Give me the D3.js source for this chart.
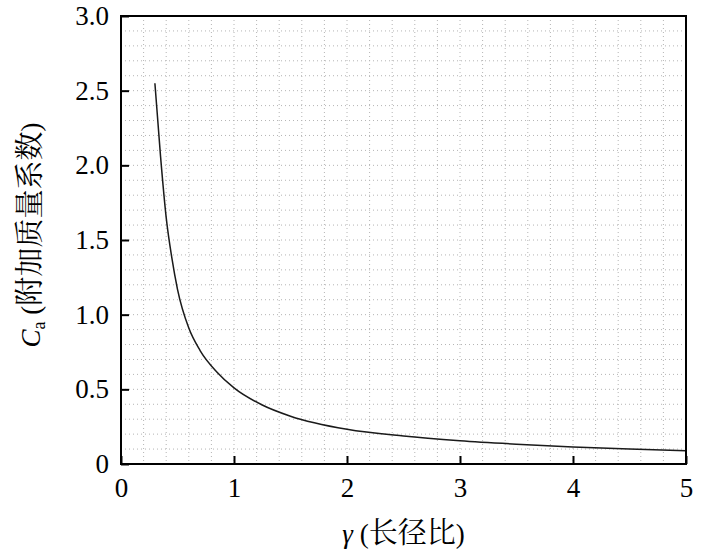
<!DOCTYPE html>
<meta charset="utf-8">
<style>
body { margin: 0; background: #fff; }
.grid line { stroke: #b4b4b4; stroke-width: 1; stroke-dasharray: 1,3; }
.axis path { display: none; }
.axis line { stroke: #000; stroke-width: 2; }
</style>
<svg width="709" height="554"></svg>
<script src="https://cdn.jsdelivr.net/npm/d3@7"></script>
<script>

// gamma (aspect ratio) and Ca (added mass coefficient)
var gamma = [0.30, 0.35, 0.40, 0.45, 0.50, 0.60, 0.70, 0.85, 1.0, 1.25, 1.5, 2.0, 2.5, 3.0, 3.5, 4.0, 4.5, 5.0];
var ca    = [2.55, 2.06, 1.65, 1.38, 1.17, 0.91, 0.76, 0.615, 0.51, 0.395, 0.32, 0.232, 0.187, 0.156, 0.133, 0.114, 0.10, 0.089];

var xTicks = [0, 1, 2, 3, 4, 5];
var yTicks = [0, 0.5, 1.0, 1.5, 2.0, 2.5, 3.0];

var latin = "'Liberation Serif'",
    cjk = "'Noto Serif CJK SC'";

var svg = d3.select("svg"),
    margin = {top: 16, right: 23, bottom: 90, left: 121},
    width = 709 - margin.left - margin.right,
    height = 554 - margin.top - margin.bottom,
    g = svg.append("g").attr("transform", "translate(" + margin.left + "," + margin.top + ")");

var x = d3.scaleLinear().domain([0, 5]).range([0, width]);
var y = d3.scaleLinear().domain([0, 3]).range([height, 0]);

// dotted grid: every 0.2 along x, every 0.1 along y
var grid = g.append("g").attr("class", "grid");
grid.selectAll(".gx")
  .data(d3.range(1, 25).map(function(i) { return i * 0.2; }))
  .enter().append("line")
    .attr("x1", function(d) { return x(d); })
    .attr("x2", function(d) { return x(d); })
    .attr("y1", 0)
    .attr("y2", height);
grid.selectAll(".gy")
  .data(d3.range(1, 30).map(function(i) { return i * 0.1; }))
  .enter().append("line")
    .attr("x1", 0)
    .attr("x2", width)
    .attr("y1", function(d) { return y(d); })
    .attr("y2", function(d) { return y(d); });

var line = d3.line()
    .x(function(d, i) { return x(gamma[i]); })
    .y(function(d) { return y(d); })
    .curve(d3.curveMonotoneX);

g.append("path")
    .datum(ca)
    .attr("fill", "none")
    .attr("stroke", "#1a1a1a")
    .attr("stroke-width", 1.5)
    .attr("d", line);

g.append("g")
    .attr("class", "axis")
    .attr("transform", "translate(0," + height + ")")
    .call(d3.axisBottom(x)
        .tickValues(xTicks)
        .tickFormat(d3.format("d"))
        .tickSizeInner(-8)
        .tickSizeOuter(0)
        .tickPadding(14));

g.append("g")
    .attr("class", "axis")
    .call(d3.axisLeft(y)
        .tickValues(yTicks)
        .tickFormat(function(d) { return d === 0 ? "0" : d3.format(".1f")(d); })
        .tickSizeInner(-8)
        .tickSizeOuter(0)
        .tickPadding(12));

g.selectAll(".axis text")
    .style("font-family", latin)
    .style("font-size", "27px")
    .attr("fill", "#000");

// frame
g.append("rect")
    .attr("width", width)
    .attr("height", height)
    .attr("fill", "none")
    .attr("stroke", "#000")
    .attr("stroke-width", 2);

// axis titles
var xt = svg.append("text")
    .attr("x", margin.left + width / 2)
    .attr("y", 543)
    .attr("text-anchor", "middle")
    .style("font-family", latin)
    .style("font-size", "27px");
xt.append("tspan").attr("font-style", "italic").text("γ");
xt.append("tspan").text(" (");
xt.append("tspan").style("font-family", cjk).style("font-size", "29px").text("长径比");
xt.append("tspan").text(")");

var yt = svg.append("text")
    .attr("transform", "translate(40,235) rotate(-90)")
    .attr("text-anchor", "middle")
    .style("font-family", latin)
    .style("font-size", "27px");
yt.append("tspan").attr("font-style", "italic").text("C");
yt.append("tspan").style("font-size", "18px").attr("dy", 5).text("a");
yt.append("tspan").attr("dy", -5).text(" (");
yt.append("tspan").style("font-family", cjk).style("font-size", "29px").text("附加质量系数");
yt.append("tspan").text(")");

</script>
